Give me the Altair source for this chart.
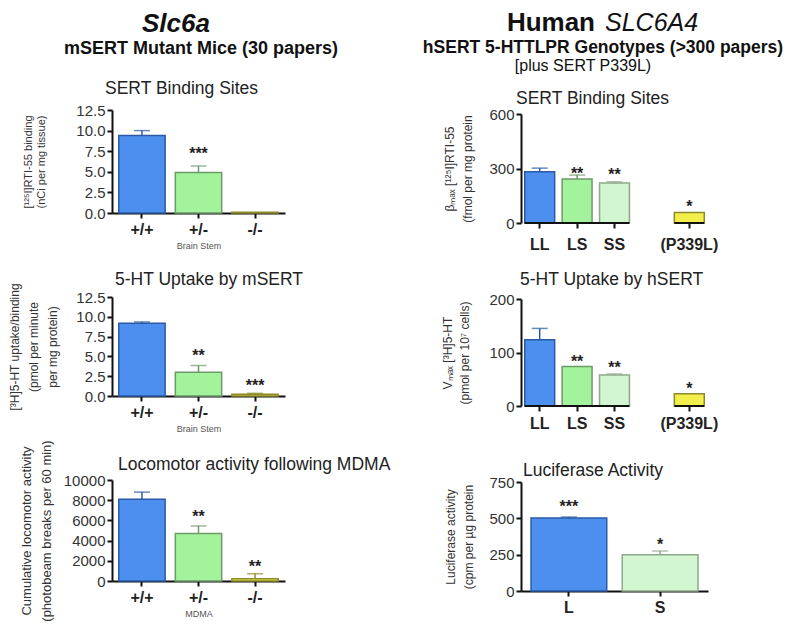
import altair as alt
import pandas as pd

FONT = "Liberation Sans"

# ---------------- data ----------------
mouse_genotypes = ["+/+", "+/-", "-/-"]
binding_mouse = [9.4, 4.9, 0.1]
binding_mouse_err = [0.6, 0.8, 0.0]
binding_mouse_sig = ["", "***", ""]
binding_mouse_sig_y = [None, 7.6, None]

uptake_mouse = [9.2, 3.0, 0.22]
uptake_mouse_err = [0.15, 0.85, 0.12]
uptake_mouse_sig = ["", "**", "***"]
uptake_mouse_sig_y = [None, 5.6, 1.8]

loco_mouse = [8100, 4700, 220]
loco_mouse_err = [700, 750, 500]
loco_mouse_sig = ["", "**", "**"]
loco_mouse_sig_y = [None, 6700, 1750]

human_genotypes = ["LL", "LS", "SS", "(P339L)"]
human_slots = ["LL", "LS", "SS", " ", "(P339L)"]
binding_human = [282, 242, 220, 58]
binding_human_err = [20, 22, 7, 0]
binding_human_sig = ["", "**", "**", "*"]
binding_human_sig_y = [None, 293, 284, 110]

uptake_human = [124, 74, 58, 23]
uptake_human_err = [21, 0, 2, 0]
uptake_human_sig = ["", "**", "**", "*"]
uptake_human_sig_y = [None, 89, 78, 39]

alleles = ["L", "S"]
luciferase = [503, 250]
luciferase_err = [6, 25]
luciferase_sig = ["***", "*"]
luciferase_sig_y = [603, 343]

axis_segments_start = ["LL", "(P339L)"]
axis_segments_end = ["SS", "(P339L)"]

# ---------------- style ----------------
BLUE, BLUE_E = "#4d8fee", "#2a5aa5"
GREEN, GREEN_E = "#a3f29c", "#6e9a6a"
PALE, PALE_E = "#d2f6cf", "#8fa88c"
YELLOW, YELLOW_E = "#f2ee4a", "#8c8a2a"
cat_order = ["+/+", "+/-", "-/-", "LL", "LS", "SS", "(P339L)", "L", "S"]
fill_range = [BLUE, GREEN, YELLOW, BLUE, GREEN, PALE, YELLOW, BLUE, PALE]
edge_range = [BLUE_E, GREEN_E, YELLOW_E, BLUE_E, GREEN_E, PALE_E, YELLOW_E, BLUE_E, PALE_E]
fill_scale = alt.Scale(domain=cat_order, range=fill_range)
edge_scale = alt.Scale(domain=cat_order, range=edge_range)


def panel(cats, vals, errs, sigs, sig_y, title, title_dx, title_offset, ytitle, ymax,
          yvalues, yfmt, w, h, xdomain=None, xtitle=None, broken=False, pad_inner=0.18,
          pad_outer=0.12, ytitle_pad=20, ytitle_lh=14, ytitle_size=12, xlabel_pad=3):
    xdomain = xdomain or cats
    df = pd.DataFrame(dict(cat=cats, val=vals,
                           top=[v + e for v, e in zip(vals, errs)],
                           sig=sigs, sig_y=sig_y))
    xscale = alt.Scale(domain=xdomain, paddingInner=pad_inner, paddingOuter=pad_outer)
    xaxis = alt.Axis(values=cats, labelAngle=0, labelFontSize=16, labelFontWeight="bold",
                     labelColor="#222", labelPadding=xlabel_pad, domain=not broken,
                     titleFontSize=9, titleFontWeight="normal", titleColor="#555",
                     titlePadding=4, title=xtitle)
    yscale = alt.Scale(domain=[0, ymax], nice=False)
    yaxis = alt.Axis(values=yvalues, format=yfmt, title=ytitle, titleFontSize=ytitle_size,
                     titleFontWeight="normal", titleColor="#333", titlePadding=ytitle_pad,
                     titleLineHeight=ytitle_lh, labelFontSize=15, labelColor="#333",
                     labelPadding=2)

    def X(field="cat"):
        return alt.X(f"{field}:N", scale=xscale, axis=xaxis)

    def Y(field):
        return alt.Y(f"{field}:Q", scale=yscale, axis=yaxis)

    base = alt.Chart(df)
    bars = base.mark_bar(strokeWidth=1.5).encode(
        x=X(), y=Y("val"),
        fill=alt.Fill("cat:N", scale=fill_scale, legend=None),
        stroke=alt.Stroke("cat:N", scale=edge_scale, legend=None))
    err = base.transform_filter("datum.top > datum.val").mark_rule(strokeWidth=1.5).encode(
        x=X(), y=Y("val"), y2=alt.Y2("top"),
        stroke=alt.Stroke("cat:N", scale=edge_scale, legend=None))
    cap = base.transform_filter("datum.top > datum.val").mark_tick(
        size=16, thickness=1.5, orient="horizontal").encode(
        x=X(), y=Y("top"), color=alt.Color("cat:N", scale=edge_scale, legend=None))
    stars = base.transform_filter("datum.sig != ''").mark_text(
        font=FONT, fontSize=16, fontWeight="bold", baseline="alphabetic", dy=9,
        color="#222").encode(x=X(), y=Y("sig_y"), text="sig:N")
    layers = [bars, err, cap, stars]
    if broken:
        seg = pd.DataFrame({"a": axis_segments_start, "b": axis_segments_end})
        layers.append(alt.Chart(seg).mark_rule(strokeWidth=2, color="#111").encode(
            x=alt.X("a:N", scale=xscale, axis=xaxis, bandPosition=0),
            x2=alt.X2("b", bandPosition=1),
            y=alt.datum(0, scale=yscale)))
    t = alt.TitleParams(text=title, anchor="start", frame="group", fontSize=17.5,
                        fontWeight="normal", font=FONT, color="#222",
                        offset=title_offset, dx=title_dx)
    return alt.layer(*layers).properties(width=w, height=h, title=t)


def header(width, height, items):
    df = pd.DataFrame({"k": [0]})
    layers = []
    for txt, x, y, size, weight, style, align in items:
        layers.append(alt.Chart(df).mark_text(
            text=txt, font=FONT, fontSize=size, fontWeight=weight, fontStyle=style,
            align=align, baseline="alphabetic", color="#111").encode(
            x=alt.value(x), y=alt.value(y)))
    return alt.layer(*layers).properties(width=width, height=height)


LW, RW = 173, 187

left_header = header(LW, 18, [
    ("Slc6a", 64, 24, 26, "bold", "italic", "center"),
    ("mSERT Mutant Mice (30 papers)", 89, 46, 18, "bold", "normal", "center"),
])
right_header = header(RW, 30, [
    ("Human", 74, 23, 26, "bold", "normal", "right"),
    ("SLC6A4", 84, 23, 25, "normal", "italic", "left"),
    ("hSERT 5-HTTLPR Genotypes (>300 papers)", 82, 45, 17.5, "bold", "normal", "center"),
    ("[plus SERT P339L)", 62, 63, 16, "normal", "normal", "center"),
])

l1 = panel(mouse_genotypes, binding_mouse, binding_mouse_err, binding_mouse_sig,
           binding_mouse_sig_y, "SERT Binding Sites", -7, 6,
           ["[¹²⁵I]RTI-55 binding", "(nCi per mg tissue)"], 12.5,
           [0, 2.5, 5, 7.5, 10, 12.5], ".1f", LW, 103, xtitle="Brain Stem",
           ytitle_pad=29, ytitle_lh=13, ytitle_size=11)
l2 = panel(mouse_genotypes, uptake_mouse, uptake_mouse_err, uptake_mouse_sig,
           uptake_mouse_sig_y, "5-HT Uptake by mSERT", 3, -6,
           ["[³H]5-HT uptake/binding", "(pmol per minute", "per mg protein)"], 12.5,
           [0, 2.5, 5, 7.5, 10, 12.5], ".1f", LW, 99, xtitle="Brain Stem",
           ytitle_pad=16, ytitle_lh=19, ytitle_size=12)
l3 = panel(mouse_genotypes, loco_mouse, loco_mouse_err, loco_mouse_sig,
           loco_mouse_sig_y, "Locomotor activity following MDMA", 6, -34,
           ["Cumulative locomotor activity", "(photobeam breaks per 60 min)"], 10000,
           [0, 2000, 4000, 6000, 8000, 10000], "d", LW, 101, xtitle="MDMA",
           ytitle_pad=10, ytitle_lh=20, ytitle_size=13)

r1 = panel(human_genotypes, binding_human, binding_human_err, binding_human_sig,
           binding_human_sig_y, "SERT Binding Sites", -5, 0,
           ["βₘₐₓ [¹²⁵I]RTI-55", "(fmol per mg protein"], 600, [0, 300, 600], "d",
           RW, 109, xdomain=human_slots, broken=True, pad_inner=0.2, pad_outer=0.1,
           ytitle_pad=14, ytitle_lh=18, ytitle_size=12, xlabel_pad=8)
r2 = panel(human_genotypes, uptake_human, uptake_human_err, uptake_human_sig,
           uptake_human_sig_y, "5-HT Uptake by hSERT", -1, 4,
           ["Vₘₐₓ [³H]5-HT", "(pmol per 10⁷ cells)"], 200, [0, 50, 100, 150, 200], "d",
           RW, 107, xdomain=human_slots, broken=True, pad_inner=0.2, pad_outer=0.1,
           ytitle_pad=17, ytitle_lh=17, ytitle_size=12, xlabel_pad=4)
r3 = panel(alleles, luciferase, luciferase_err, luciferase_sig, luciferase_sig_y,
           "Luciferase Activity", 2, -4,
           ["Luciferase activity", "(cpm per µg protein"], 750, [0, 250, 500, 750], "d",
           RW, 109, pad_inner=0.17, pad_outer=0.11,
           ytitle_pad=13, ytitle_lh=18, ytitle_size=12)

left = alt.vconcat(left_header, l1, l2, l3, spacing=84, bounds="flush")
right = alt.vconcat(right_header, r1, r2, r3, spacing=76, bounds="flush")

chart = alt.hconcat(left, right, spacing=409, bounds="flush").properties(
    padding={"left": 0, "top": 0, "right": 0, "bottom": 0}
).configure_view(stroke=None).configure_axis(
    labelFont=FONT, titleFont=FONT, grid=False, domainColor="#111", domainWidth=2,
    tickColor="#111", tickWidth=2, tickSize=5
).configure_title(font=FONT)

chart.save("out.html", embed_options={"renderer": "svg", "actions": False})
